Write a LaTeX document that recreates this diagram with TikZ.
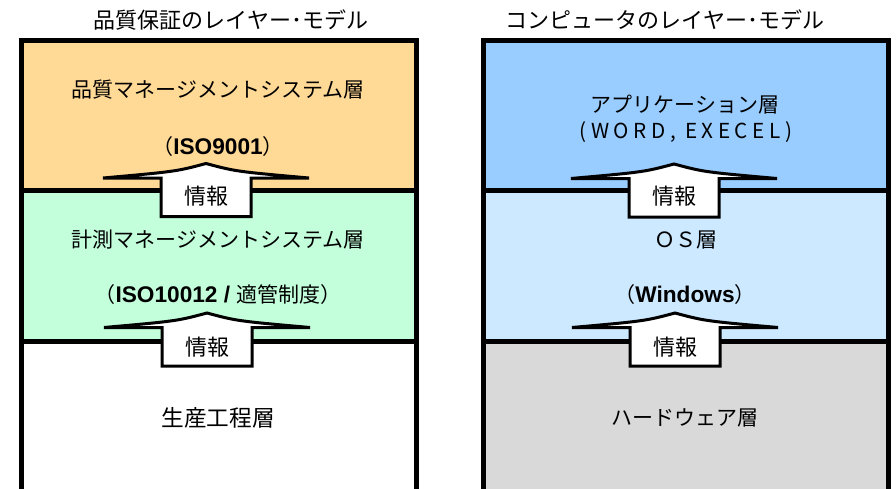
\documentclass[tikz,border=0pt]{standalone}
\usepackage{fontspec}
\setmainfont{Noto Sans CJK JP}
\newfontfamily\arialfont{Liberation Sans}
\newfontfamily\spacedfont[LetterSpace=22]{Noto Sans CJK JP}
\definecolor{qorange}{RGB}{255,217,150}
\definecolor{qgreen}{RGB}{196,255,220}
\definecolor{cblue}{RGB}{153,204,255}
\definecolor{clblue}{RGB}{204,233,255}
\definecolor{cgray}{RGB}{217,217,217}
\tikzset{
  layer/.style={draw=black, line width=3.75pt, rectangle, inner sep=0pt},
  leftlayer/.style={layer, minimum width=296.25pt},
  rightlayer/.style={layer, minimum width=304.125pt},
  bigarrow/.style={draw=black, fill=white, line width=2.25pt, line join=miter},
  ttl/.style={inner sep=0pt, font=\fontsize{16.5pt}{18pt}\selectfont},
  lbl/.style={inner sep=0pt, font=\fontsize{15.75pt}{18pt}\selectfont},
  infotxt/.style={inner sep=0pt, font=\fontsize{16.5pt}{18pt}\selectfont},
}
\newcommand\upblock[1]{%
  \draw[bigarrow, shift={(#1)}] (0,0) .. controls (30,8) .. (103,14.5) -- (45,14.5) -- (45,53) -- (-45,53) -- (-45,14.5) -- (-103,14.5) .. controls (-30,8) .. (0,0) -- cycle;}
\begin{document}
\begin{tikzpicture}[x=0.75pt,y=-0.75pt]
\path[use as bounding box] (0,0) rectangle (896,489);
\clip (0,0) rectangle (896,489);
% titles
\node[ttl] (tL) at (231,20) {品質保証のレイヤー･モデル};
\node[ttl] (tR) at (665,20) {コンピュータのレイヤー･モデル};
% left stack
\node[leftlayer, fill=qorange, minimum height=112.5pt] (L1) at (219,115.5) {};
\node[leftlayer, fill=qgreen, minimum height=113.25pt] (L2) at (219,266) {};
\node[leftlayer, fill=white, minimum height=135pt] (L3) at (219,431.5) {};
% right stack
\node[rightlayer, fill=cblue, minimum height=112.5pt] (R1) at (685.75,115.5) {};
\node[rightlayer, fill=clblue, minimum height=113.25pt] (R2) at (685.75,266) {};
\node[rightlayer, fill=cgray, minimum height=135pt] (R3) at (685.75,431.5) {};
% arrows
\coordinate (aL1) at (206,163.5);
\coordinate (aL2) at (207,313);
\coordinate (aR1) at (674,164);
\coordinate (aR2) at (675,313);
\upblock{aL1}
\upblock{aL2}
\upblock{aR1}
\upblock{aR2}
\node[infotxt] (iL1) at (206,196) {情報};
\node[infotxt] (iL2) at (207,347) {情報};
\node[infotxt] (iR1) at (674,196) {情報};
\node[infotxt] (iR2) at (675,347) {情報};
% left labels
\node[lbl] (l1a) at (218,90) {品質マネージメントシステム層};
\node[lbl] (l1b) at (218,147) {（{\arialfont\bfseries\fontsize{17pt}{18pt}\selectfont ISO9001}）};
\node[lbl] (l2a) at (218,240) {計測マネージメントシステム層};
\node[lbl] (l2b) at (218,295) {（{\arialfont\bfseries\fontsize{17pt}{18pt}\selectfont ISO10012 / }適管制度）};
\node[lbl, font=\fontsize{17pt}{18pt}\selectfont] (l3a) at (218,418) {生産工程層};
% right labels
\node[lbl] (r1a) at (685,105) {アプリケーション層};
\node[lbl, font=\spacedfont\fontsize{15.5pt}{18pt}\selectfont] (r1b) at (686,132) {(WORD, EXECEL)};
\node[lbl] (r2a) at (686,240) {ＯＳ層};
\node[lbl] (r2b) at (685,295) {（{\arialfont\bfseries\fontsize{17pt}{18pt}\selectfont Windows}）};
\node[lbl] (r3a) at (685,418) {ハードウェア層};
\end{tikzpicture}
\end{document}
